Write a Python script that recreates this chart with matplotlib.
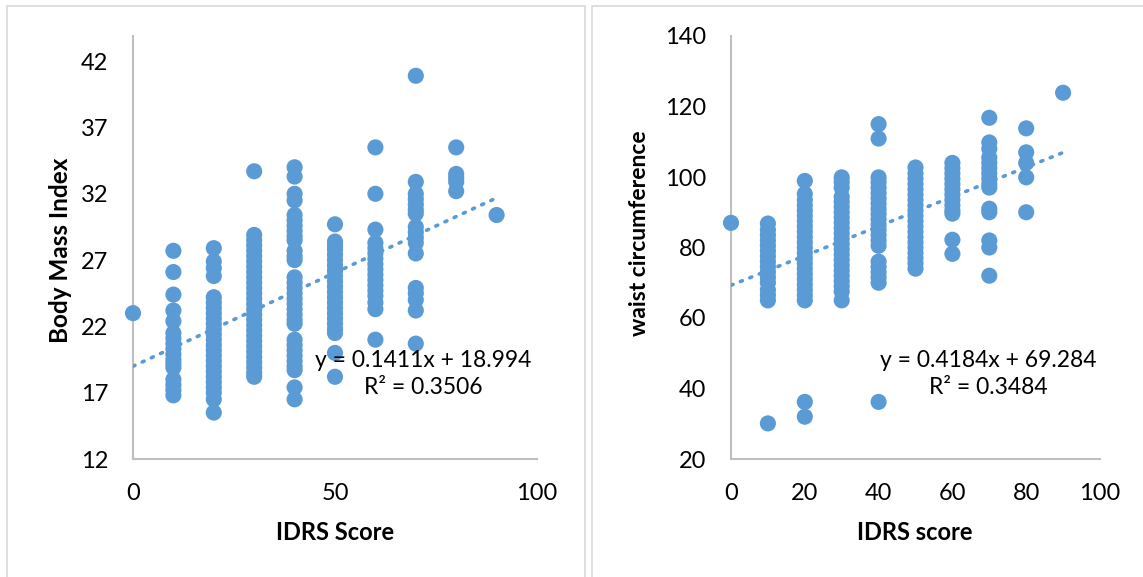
import matplotlib
matplotlib.use("Agg")
import matplotlib.pyplot as plt
from matplotlib.patches import Rectangle

plt.rcParams['font.family'] = ['Lato', 'DejaVu Sans']

BLUE = '#5B9BD5'
GREY = '#BFBFBF'

# ---- Body Mass Index vs IDRS score ----
bmi = {
    0: [23.0],
    10: [27.7, 26.1, 24.4, 23.2, 22.4, 21.5, 21.1, 20.7, 20.3, 19.9, 19.5, 19.2,
         18.9, 18.0, 17.6, 17.2, 16.8],
    20: [27.9, 26.9, 26.4, 25.8, 24.2, 23.8, 23.4, 23.0, 22.6, 22.2, 21.8, 21.4,
         21.0, 20.6, 20.2, 19.8, 19.4, 19.0, 18.6, 18.2, 17.8, 17.4, 17.0, 16.5, 15.5],
    30: [33.7, 28.9, 28.5, 28.1, 27.7, 27.3, 26.9, 26.5, 26.1, 25.7, 25.3, 24.9,
         24.5, 24.1, 23.7, 23.3, 22.9, 22.5, 22.1, 21.7, 21.3, 20.9, 20.5, 20.1,
         19.7, 19.3, 18.9, 18.5, 18.2],
    40: [34.0, 33.3, 32.0, 31.5, 30.4, 30.0, 29.6, 29.2, 28.8, 28.5, 27.7, 27.3,
         27.0, 25.7, 25.3, 24.9, 24.5, 24.1, 23.7, 23.3, 22.9, 22.5, 22.2, 21.0,
         20.6, 20.2, 19.8, 19.4, 19.0, 18.7, 17.4, 16.5],
    50: [29.7, 28.4, 28.1, 27.8, 27.4, 27.0, 26.6, 26.2, 25.8, 25.4, 25.0, 24.6,
         24.2, 23.8, 23.4, 23.0, 22.6, 22.2, 21.8, 21.5, 20.0, 18.2],
    60: [35.5, 32.0, 29.3, 28.3, 27.9, 27.5, 27.1, 26.7, 26.3, 25.9, 25.5, 25.1,
         24.7, 24.3, 23.8, 23.3, 21.0],
    70: [40.9, 32.9, 32.0, 31.6, 31.2, 30.8, 30.5, 29.5, 29.1, 28.7, 28.3, 27.5,
         24.9, 24.5, 24.0, 23.2, 20.7],
    80: [35.5, 33.5, 33.2, 32.9, 32.2],
    90: [30.4],
}

# ---- waist circumference vs IDRS score ----
waist = {
    0: [87.0],
    10: [86.8, 85.0, 83.5, 82.0, 80.5, 79.0, 77.5, 76.0, 74.5, 73.0, 71.5, 70.0,
         68.0, 66.5, 65.0, 30.1],
    20: [98.9, 95.2, 93.5, 92.0, 90.5, 89.0, 87.5, 86.0, 84.5, 83.0, 81.5, 80.0,
         78.5, 77.0, 75.5, 74.0, 72.5, 71.0, 69.5, 68.0, 66.5, 65.0, 36.2, 32.0],
    30: [99.9, 98.5, 97.0, 94.4, 93.0, 91.5, 90.0, 88.5, 87.0, 85.5, 84.0, 82.5,
         81.0, 79.5, 78.0, 76.5, 75.0, 73.5, 72.0, 70.5, 69.0, 67.5, 65.0],
    40: [115.0, 110.9, 99.9, 98.5, 97.0, 95.5, 94.0, 92.5, 91.0, 89.5, 88.0, 86.5,
         85.0, 83.5, 82.0, 80.5, 76.0, 74.5, 73.0, 71.5, 70.0, 36.2],
    50: [102.7, 101.0, 99.5, 98.0, 96.5, 95.0, 93.5, 92.0, 90.5, 89.0, 87.5, 86.0,
         84.5, 83.0, 81.5, 80.0, 78.5, 77.0, 75.5, 74.0],
    60: [104.0, 102.5, 101.0, 99.5, 98.0, 96.5, 95.0, 93.5, 92.0, 90.5, 89.6,
         82.2, 78.2],
    70: [116.8, 109.8, 108.0, 105.5, 104.0, 102.5, 101.0, 99.5, 98.0, 97.0, 91.0,
         90.0, 82.0, 80.0, 72.0],
    80: [113.8, 107.0, 104.0, 99.9, 90.0],
    90: [123.9],
}

# trendline coefficients as printed on the chart
bmi_fit = (0.1411, 18.994, 0.3506)
waist_fit = (0.4184, 69.284, 0.3484)


def flatten(d):
    xs, ys = [], []
    for k, vals in d.items():
        xs += [k] * len(vals)
        ys += vals
    return xs, ys


fig = plt.figure(figsize=(11.43, 5.77), dpi=100)
W, H = 1143, 577

# panel frames like the two pasted Excel charts
for x0, x1 in [(7, 585), (592, 1160)]:
    fig.patches.append(Rectangle((x0 / W, -0.05), (x1 - x0) / W, 1.05 - 6 / H,
                                 transform=fig.transFigure, fill=False,
                                 edgecolor='#D9D9D9', lw=1.2))


def panel(rect, data, fit, ylim, yticks, xticks, eq_xy):
    ax = fig.add_axes(rect)
    xs, ys = flatten(data)
    ax.scatter(xs, ys, s=135, color=BLUE, edgecolors='none', zorder=3, clip_on=False)
    a, b, r2 = fit
    lx = [min(xs), max(xs)]
    ax.plot(lx, [a * v + b for v in lx], color=BLUE, lw=2.6,
            linestyle=(0, (0.6, 2.2)), dash_capstyle='round', zorder=4)
    ax.set_xlim(0, 100)
    ax.set_ylim(*ylim)
    ax.set_xticks(xticks)
    ax.set_yticks(yticks)
    for s in ['top', 'right']:
        ax.spines[s].set_visible(False)
    for s in ['left', 'bottom']:
        ax.spines[s].set_color(GREY)
        ax.spines[s].set_linewidth(1.5)
    ax.tick_params(length=0, labelsize=17)
    ax.tick_params(axis='y', pad=18)
    ax.tick_params(axis='x', pad=17)
    fig.text(eq_xy[0] / W, 1 - eq_xy[1] / H,
             f'y = {a}x + {b}\nR² = {r2}', ha='center', va='center',
             fontsize=16.5, linespacing=1.4)
    return ax


panel([133 / W, 1 - 459 / H, 404 / W, 423 / H], bmi, bmi_fit,
      (12, 43.9), [12, 17, 22, 27, 32, 37, 42], [0, 50, 100], (423, 374))
panel([731 / W, 1 - 459 / H, 369 / W, 423 / H], waist, waist_fit,
      (20, 140), [20, 40, 60, 80, 100, 120, 140], [0, 20, 40, 60, 80, 100], (988, 374))

fig.text(60 / W, 1 - 250 / H, 'Body Mass Index', rotation=90, ha='center',
         va='center', fontsize=17.5, fontweight='bold')
fig.text(640 / W, 1 - 233 / H, 'waist circumference', rotation=90, ha='center',
         va='center', fontsize=16.5, fontweight='bold')
fig.text(335 / W, 1 - 533 / H, 'IDRS Score', ha='center', va='center',
         fontsize=17, fontweight='bold')
fig.text(915 / W, 1 - 533 / H, 'IDRS score', ha='center', va='center',
         fontsize=17, fontweight='bold')

fig.savefig('out.png', dpi=100)
